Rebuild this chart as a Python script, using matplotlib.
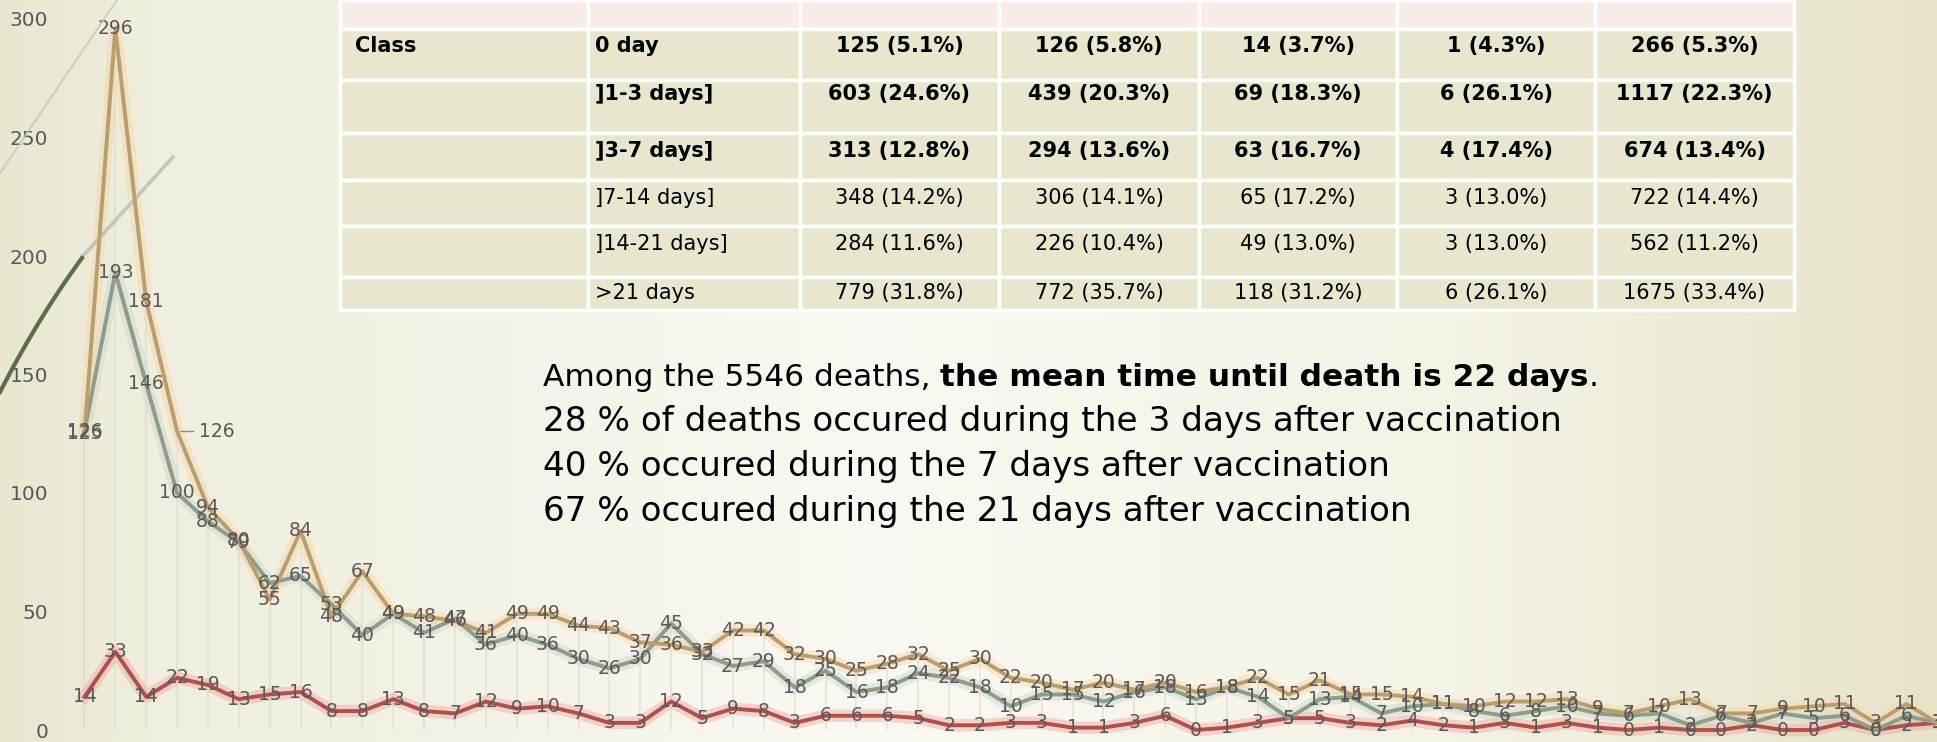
import numpy as np
import matplotlib
matplotlib.use('Agg')
import matplotlib.pyplot as plt
from matplotlib.patches import Rectangle

# daily deaths by days after vaccination (day 0 .. 60)
days = list(range(61))
series_a = [125, 296, 181, 126, 94, 80, 55, 84, 48, 67, 49, 48, 46, 41, 49, 49, 44, 43, 37, 36,
            33, 42, 42, 32, 30, 25, 28, 32, 25, 30, 22, 20, 17, 20, 17, 20, 16, 18, 22, 15,
            21, 15, 15, 14, 11, 10, 12, 12, 13, 9, 7, 10, 13, 7, 7, 9, 10, 11, 3, 11, 3]
series_b = [126, 193, 146, 100, 88, 79, 62, 65, 53, 40, 49, 41, 47, 36, 40, 36, 30, 26, 30, 45,
            32, 27, 29, 18, 25, 16, 18, 24, 22, 18, 10, 15, 15, 12, 16, 18, 13, 18, 14, 5,
            13, 14, 7, 10, 11, 8, 6, 8, 10, 7, 6, 7, 2, 6, 3, 7, 5, 6, 0, 6, 3]
series_c = [14, 33, 14, 22, 19, 13, 15, 16, 8, 8, 13, 8, 7, 12, 9, 10, 7, 3, 3, 12,
            5, 9, 8, 3, 6, 6, 6, 5, 2, 2, 3, 3, 1, 1, 3, 6, 0, 1, 3, 5,
            5, 3, 2, 4, 2, 1, 3, 1, 3, 1, 0, 1, 0, 0, 2, 0, 0, 3, 0, 2, 3]
y_ticks = [0, 50, 100, 150, 200, 250, 300]

# summary table
row_labels = ['0 day', ']1-3 days]', ']3-7 days]', ']7-14 days]', ']14-21 days]', '>21 days']
col_a = ['125 (5.1%)', '603 (24.6%)', '313 (12.8%)', '348 (14.2%)', '284 (11.6%)', '779 (31.8%)']
col_b = ['126 (5.8%)', '439 (20.3%)', '294 (13.6%)', '306 (14.1%)', '226 (10.4%)', '772 (35.7%)']
col_c = ['14 (3.7%)', '69 (18.3%)', '63 (16.7%)', '65 (17.2%)', '49 (13.0%)', '118 (31.2%)']
col_d = ['1 (4.3%)', '6 (26.1%)', '4 (17.4%)', '3 (13.0%)', '3 (13.0%)', '6 (26.1%)']
col_total = ['266 (5.3%)', '1117 (22.3%)', '674 (13.4%)', '722 (14.4%)', '562 (11.2%)', '1675 (33.4%)']
bold_rows = 3

text_lines = ['28 % of deaths occured during the 3 days after vaccination',
              '40 % occured during the 7 days after vaccination',
              '67 % occured during the 21 days after vaccination']

W, H = 1937, 742
fig = plt.figure(figsize=(W / 100, H / 100), dpi=100)

# slide background gradient
bg = fig.add_axes([0, 0, 1, 1])
xs = np.linspace(0, 1, 500)
stops = [0, 0.08, 0.45, 0.75, 1]
cols = np.array([[233, 231, 208], [240, 238, 222], [250, 248, 242],
                 [245, 243, 230], [231, 228, 201]]) / 255
grad = np.stack([np.interp(xs, stops, cols[:, i]) for i in range(3)], axis=-1)
bg.imshow(np.tile(grad[None, :, :], (20, 1, 1)), aspect='auto', extent=[0, 1, 0, 1])
bg.axis('off')

# line chart
step = 30.88
ax = fig.add_axes([69 / W, 12 / H, 61 * step / W, 711 / H])
ax.patch.set_alpha(0)
ax.set_xlim(-0.5, 60.5)
ax.set_ylim(0, 300)
for s in ax.spines.values():
    s.set_visible(False)
ax.set_xticks([])
ax.set_yticks(y_ticks)
ax.tick_params(axis='y', length=0, pad=15, labelsize=14.5, labelcolor='#595959')

top = np.maximum(series_a, series_b)
ax.vlines(days, 0, top, color='#d9d9cf', lw=1.5, alpha=0.5, zorder=1)

styles = [(series_c, '#b0504a', '#f0a8a0'),
          (series_b, '#8f9c8a', '#c8d8d0'),
          (series_a, '#bb9e6e', '#f5d7a8')]
for vals, core, halo in styles:
    ax.plot(days, vals, color=halo, lw=9, alpha=0.45, clip_on=False, zorder=2,
            solid_joinstyle='round')
    ax.plot(days, vals, color=core, lw=2.8, clip_on=False, zorder=3,
            solid_joinstyle='round')

lab_kw = dict(ha='center', va='center', color='#595959', fontsize=13.5, clip_on=False, zorder=4)
for vals in (series_a, series_b, series_c):
    for d, v in zip(days, vals):
        if vals is series_a and d == 3:
            # label moved aside with a leader line
            ax.plot([3.1, 3.5], [v, v], color='#8c8c8c', lw=1, zorder=4)
            ax.text(4.3, v, str(v), **lab_kw)
            continue
        ax.text(d, v, str(v), **lab_kw)

# overlay in pixel coordinates: decorations, table and text
ov = fig.add_axes([0, 0, 1, 1])
ov.set_xlim(0, W)
ov.set_ylim(H, 0)
ov.axis('off')
ov.patch.set_alpha(0)

ov.plot([0, 117], [173, 0], color='#c9c9bb', lw=1.5, alpha=0.8)
ov.plot([82, 173], [257, 157], color='#a9ada3', lw=2.5, alpha=0.6)
t = np.linspace(0, 1, 50)
p0, p1, p2 = np.array([82, 258]), np.array([38, 318]), np.array([0, 392])
curve = ((1 - t) ** 2)[:, None] * p0 + (2 * (1 - t) * t)[:, None] * p1 + (t ** 2)[:, None] * p2
ov.plot(curve[:, 0], curve[:, 1], color='#5b6e4b', lw=3)

col_edges = [340, 588, 800, 999, 1199, 1397, 1595, 1794]
row_edges = [0, 29, 80, 133, 180, 226, 277, 310]
for i in range(len(row_edges) - 1):
    fill = '#f9ebe7' if i == 0 else '#e9e6ce'
    for j in range(len(col_edges) - 1):
        ov.add_patch(Rectangle((col_edges[j], row_edges[i]), col_edges[j + 1] - col_edges[j],
                               row_edges[i + 1] - row_edges[i], facecolor=fill,
                               edgecolor='white', lw=2.5))

text_y = [46, 94, 151, 198, 244, 293]
ov.text(355, text_y[0], 'Class', fontsize=15, fontweight='bold', va='center', ha='left')
value_cols = [col_a, col_b, col_c, col_d, col_total]
for r, ty in enumerate(text_y):
    w = 'bold' if r < bold_rows else 'normal'
    ov.text(595, ty, row_labels[r], fontsize=15, fontweight=w, va='center', ha='left')
    for c, vals in enumerate(value_cols):
        cx = (col_edges[c + 2] + col_edges[c + 3]) / 2
        ov.text(cx, ty, vals[r], fontsize=15, fontweight=w, va='center', ha='center')

t1 = ov.text(543, 378, 'Among the 5546 deaths, ', fontsize=22.5, va='center', ha='left')
t2 = ov.annotate('the mean time until death is 22 days', xy=(1, 0), xycoords=t1,
                 fontsize=22.5, fontweight='bold', va='bottom', ha='left')
ov.annotate('.', xy=(1, 0), xycoords=t2, fontsize=22.5, va='bottom', ha='left')
for k, line in enumerate(text_lines):
    ov.text(543, 422 + 44.5 * k, line, fontsize=24.7, va='center', ha='left')

fig.savefig('out.png', dpi=100)
